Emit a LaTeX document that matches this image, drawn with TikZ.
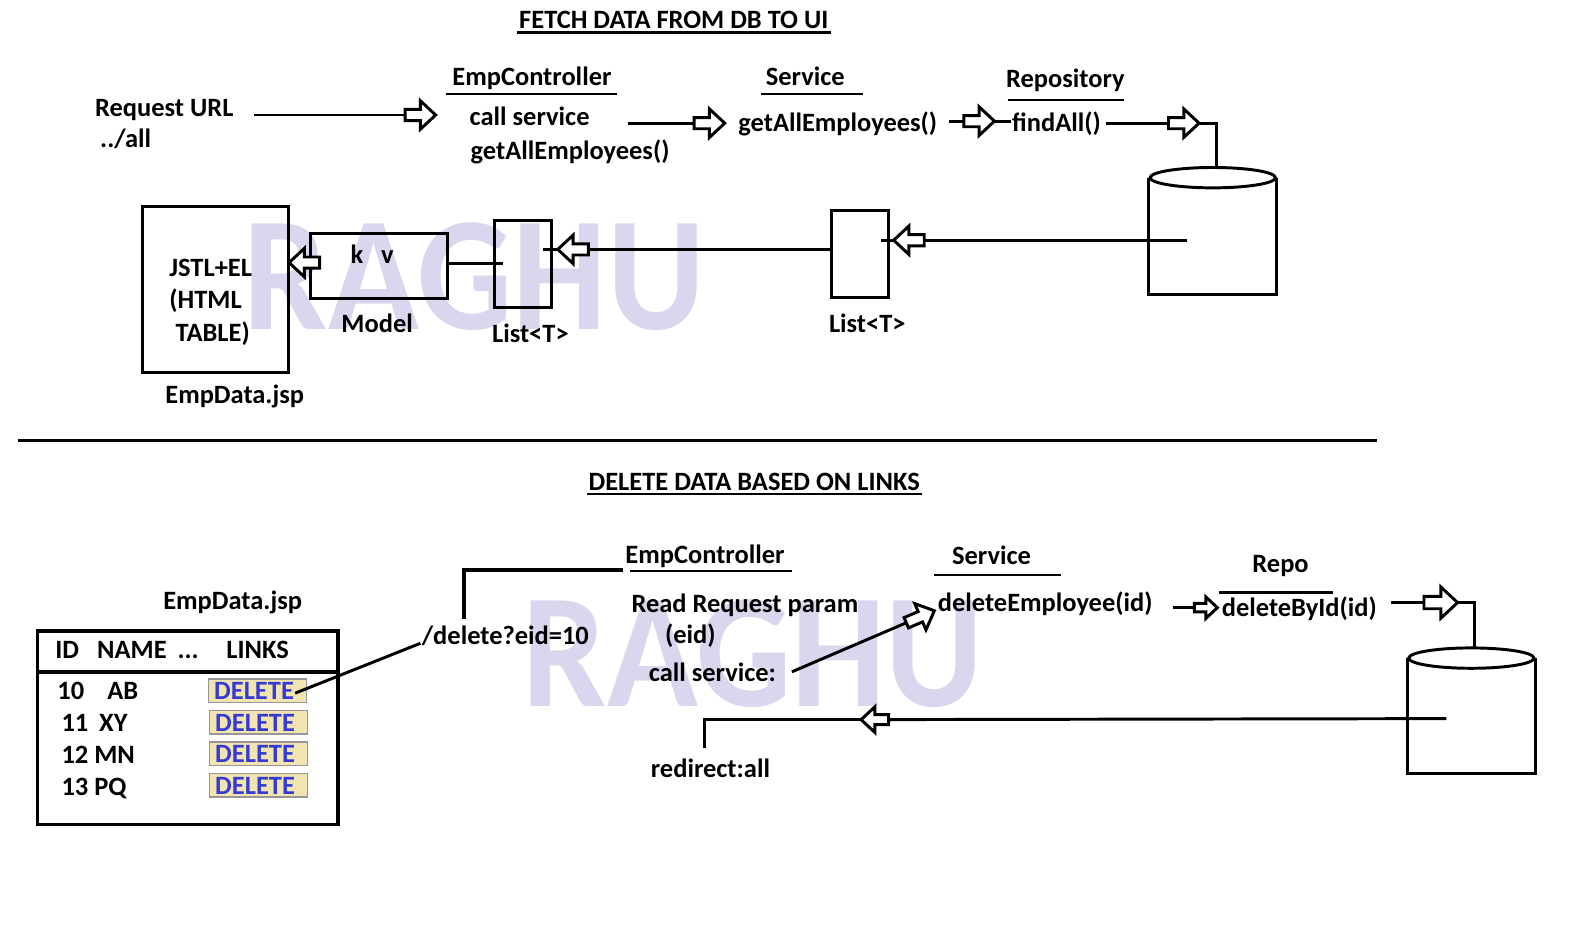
\documentclass[tikz,border=0pt]{standalone}
\usepackage{fontspec}
\setmainfont{Carlito}
\usetikzlibrary{fit}
\definecolor{wmcol}{RGB}{218,214,238}
\definecolor{btnfill}{RGB}{242,228,176}
\definecolor{btnedge}{RGB}{150,150,150}
\definecolor{btntext}{RGB}{52,58,210}
\begin{document}
\begin{tikzpicture}[x=0.5pt,y=-0.5pt, line width=1.45pt,
  lbl/.style={font=\bfseries\fontsize{13}{15}\selectfont, inner sep=0pt, anchor=west, text height=8.4pt, text depth=0pt},
  ttl/.style={lbl, anchor=center},
  wm/.style={font=\bfseries\fontsize{80}{80}\selectfont, text=wmcol, inner sep=0pt, text height=51.5pt, text depth=0pt},
  boxn/.style={draw, inner sep=0pt},
  btn/.style={draw=btnedge, fill=btnfill, line width=0.8pt, inner sep=0pt},
  btnlbl/.style={lbl, text=btntext},
  uline/.style={line width=1.1pt},
  barrow/.pic={\draw[fill=white, line join=miter, miter limit=4] (-30,-5.5) -- (-15,-5.5) -- (-15,-14) -- (0,0) -- (-15,14) -- (-15,5.5) -- (-30,5.5) -- cycle;}
]
\useasboundingbox (0,0) rectangle (1568,932);

% watermarks
\node[wm] (wm1) at (466,272) {\scalebox{0.92}[1]{RAGHU}};
\node[wm] (wm2) at (740,643) {\scalebox{0.92}[1]{RAGHU}};

% ---------- top section ----------
\node[ttl] (t1) at (662,20) {FETCH DATA FROM DB TO UI};
\draw[uline] (508,32) -- (816,32);

\node[lbl] (req1) at (92,106) {Request URL};
\node[lbl] (req2) at (97,137) {../all};

\node[lbl] (ec1) at (443,76) {EmpController};
\draw[uline] (438,92) -- (606,92);
\node[lbl] (cs1) at (460,115) {call service};
\node[lbl] (gae1) at (461,148) {getAllEmployees()};

\node[lbl] (sv1) at (751,76) {Service};
\draw[uline] (748,92) -- (848,92);
\node[lbl] (gae2) at (724,121) {getAllEmployees()};

\node[lbl] (rp1) at (987,78) {Repository};
\draw[uline] (990,98) -- (1104,98);
\node[lbl] (fa) at (993,121) {findAll()};

% boxes
\node[boxn, fit={(140,203) (283,366)}] (jsp) {};
\node[lbl] (j1) at (165,263) {JSTL+EL};
\node[lbl] (j2) at (165,295) {(HTML};
\node[lbl] (j3) at (171,327) {TABLE)};
\node[lbl] (empjsp1) at (161,388) {EmpData.jsp};

\node[boxn, fit={(305,229) (440,293)}] (model) {};
\node[lbl] (kk) at (343,250) {k};
\node[lbl] (vv) at (373,250) {v};
\node[lbl] (modell) at (334,318) {Model};

\node[boxn, fit={(486,217) (542,302)}] (list1) {};
\node[lbl] (list1l) at (482,328) {List<T>};
\node[boxn, fit={(817,207) (873,292)}] (list2) {};
\node[lbl] (list2l) at (813,318) {List<T>};

% database 1
\node[inner sep=0pt, fit={(1130,176) (1253,288)}] (db1) {};
\draw (db1.north west) -- (db1.south west) -- (db1.south east) -- (db1.north east);
\draw[fill=white] (db1.north) ellipse [x radius=61.5, y radius=10];

% top connectors
\coordinate (a1s) at (250,113);
\coordinate (a1t) at (428,113);
\draw[shorten >=14pt] (a1s) -- (a1t);
\pic at (a1t) {barrow};

\coordinate (a2s) at (617,121);
\coordinate (a2t) at (712,121);
\draw[shorten >=14pt] (a2s) -- (a2t);
\pic at (a2t) {barrow};

\coordinate (a3s) at (932,119);
\coordinate (a3t) at (977,119);
\draw[shorten >=14pt] (a3s) -- (a3t);
\draw (a3t) -- (fa.west |- a3t);
\pic at (a3t) {barrow};

\coordinate (a4s) at (1087,121);
\coordinate (a4t) at (1178,121);
\coordinate (db1top) at (1195,166);
\draw[shorten >=14pt] (a4s) -- (a4t);
\draw (a4t) -| (db1top);
\pic at (a4t) {barrow};

\coordinate (a5s) at (1166,236);
\coordinate (a5t) at (878,236);
\coordinate (a5e) at (866,236);
\draw[shorten >=14pt] (a5s) -- (a5t);
\draw (a5t) -- (a5e);
\pic[rotate=180] at (a5t) {barrow};

\coordinate (a6s) at (list2.west |- 0,245);
\coordinate (a6t) at (548,245);
\coordinate (a6e) at (533,245);
\draw[shorten >=14pt] (a6s) -- (a6t);
\draw (a6t) -- (a6e);
\pic[rotate=180] at (a6t) {barrow};

\coordinate (m1) at (model.east |- 0,259);
\coordinate (m2) at (494,259);
\draw (m1) -- (m2);

\coordinate (a7t) at (284,258);
\pic[rotate=180] at (a7t) {barrow};

% separator
\draw[line width=1.3pt] (18,433) -- (1353,433);

% ---------- bottom section ----------
\node[ttl] (t2) at (741,473) {DELETE DATA BASED ON LINKS};
\draw[uline] (577,485) -- (906,485);

\node[lbl] (empjsp2) at (159,590) {EmpData.jsp};
\node[boxn, line width=1.7pt, fit={(37,620) (332,810)}] (tbl) {};
\draw[line width=1.7pt] (tbl.west |- 0,660) -- (tbl.east |- 0,660);
\node[lbl] (hid) at (53,639) {ID};
\node[lbl] (hname) at (94,639) {NAME};
\node[lbl] (hdots) at (173,639) {...};
\node[lbl] (hlinks) at (221,639) {LINKS};

\node[lbl] (r1a) at (55,679) {10};
\node[lbl] (r1b) at (104,679) {AB};
\node[lbl] (r2a) at (59,710) {11};
\node[lbl] (r2b) at (96,710) {XY};
\node[lbl] (r3) at (59,742) {12 MN};
\node[lbl] (r4) at (59,773) {13 PQ};

\node[btn, fit={(205,667) (301,690)}] (d1) {};
\node[btn, fit={(206,698) (302,721)}] (d2) {};
\node[btn, fit={(206,729) (302,752)}] (d3) {};
\node[btn, fit={(206,760) (302,783)}] (d4) {};
\node[btnlbl] (d1l) at (209,679) {DELETE};
\node[btnlbl] (d2l) at (210,710) {DELETE};
\node[btnlbl] (d3l) at (210,741) {DELETE};
\node[btnlbl] (d4l) at (210,772) {DELETE};

\node[lbl] (dlink) at (413,625) {/delete?eid=10};
\coordinate (l1s) at (290,681);
\coordinate (l1e) at (413,632);
\draw (l1s) -- (l1e);

\coordinate (b1) at (456,608);
\coordinate (b2) at (612,560);
\draw[line width=1.9pt] (b1) |- (b2);

\node[lbl] (ec2) at (613,545) {EmpController};
\draw[uline] (619,561) -- (778,561);
\node[lbl] (rrp) at (619,593) {Read Request param};
\node[lbl] (eid) at (652,624) {(eid)};
\node[lbl] (cs2) at (636,661) {call service:};

\node[lbl] (sv2) at (934,546) {Service};
\draw[uline] (918,565) -- (1042,565);
\node[lbl] (de) at (920,592) {deleteEmployee(id)};

\node[lbl] (repo) at (1229,554) {Repo};
\draw[uline] (1198,582) -- (1310,582);
\node[lbl] (dbi) at (1199,597) {deleteById(id)};

\node[lbl] (redir) at (638,755) {redirect:all};

% database 2
\node[inner sep=0pt, fit={(1384,648) (1507,758)}] (db2) {};
\draw (db2.north west) -- (db2.south west) -- (db2.south east) -- (db2.north east);
\draw[fill=white] (db2.north) ellipse [x radius=61.5, y radius=10];

% bottom connectors
\coordinate (a8s) at (778,660);
\coordinate (a8t) at (918,600);
\draw[shorten >=14pt] (a8s) -- (a8t);
\pic[rotate=23.2] at (a8t) {barrow};

\coordinate (a9s) at (1152,597);
\coordinate (a9t) at (1196,597);
\draw[shorten >=10pt] (a9s) -- (a9t);
\pic[scale=0.75] at (a9t) {barrow};

\coordinate (a10s) at (1367,592);
\coordinate (a10t) at (1432,592);
\coordinate (db2top) at (1449,638);
\draw[shorten >=15pt] (a10s) -- (a10t);
\draw (a10t) -| (db2top);
\pic[scale=1.1] at (a10t) {barrow};

\coordinate (a11s) at (1421,706);
\coordinate (a11t) at (846,707);
\coordinate (a11e) at (692,707);
\coordinate (a11f) at (692,735);
\draw[shorten >=12pt] (a11s) -- (a11t);
\draw (a11t) -- (a11e) -- (a11f);
\pic[rotate=180, scale=0.9] at (a11t) {barrow};

\end{tikzpicture}
\end{document}
